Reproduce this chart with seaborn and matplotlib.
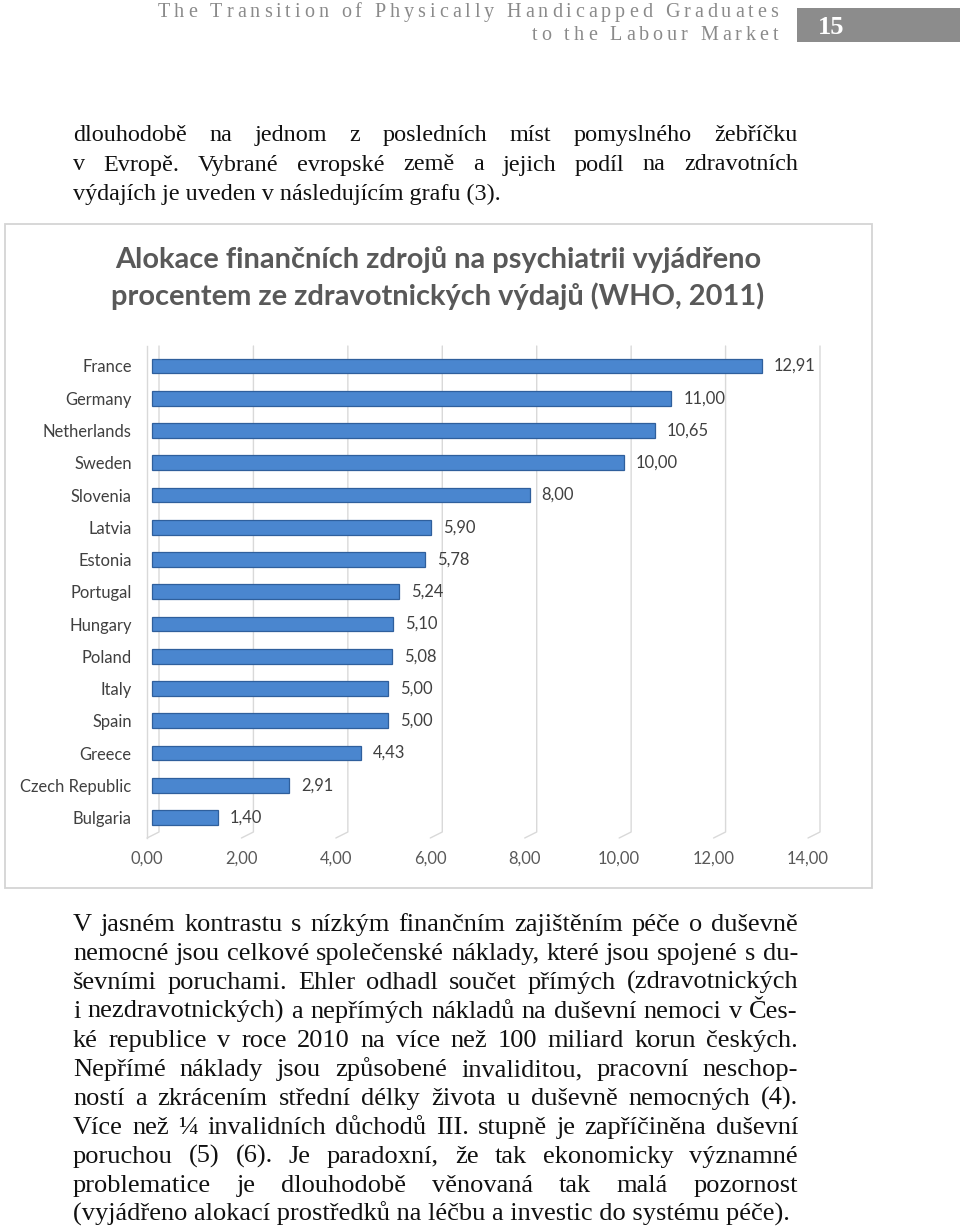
import numpy as np
import pandas as pd
import seaborn as sns
import matplotlib
matplotlib.use("Agg")
import matplotlib.pyplot as plt
from matplotlib.font_manager import FontProperties
from matplotlib.transforms import ScaledTranslation
from matplotlib.patches import Rectangle

# ---------------- data ----------------
countries = ["France", "Germany", "Netherlands", "Sweden", "Slovenia", "Latvia",
             "Estonia", "Portugal", "Hungary", "Poland", "Italy", "Spain",
             "Greece", "Czech Republic", "Bulgaria"]
values = [12.91, 11.00, 10.65, 10.00, 8.00, 5.90, 5.78, 5.24, 5.10, 5.08,
          5.00, 5.00, 4.43, 2.91, 1.40]
xticks = [0, 2, 4, 6, 8, 10, 12, 14]

title_lines = ["Alokace finančních zdrojů na psychiatrii vyjádřeno",
               "procentem ze zdravotnických výdajů (WHO, 2011)"]
header_lines = ["The Transition of Physically Handicapped Graduates",
                "to the Labour Market"]
page_number = "15"
intro_lines = ["dlouhodobě na jednom z posledních míst pomyslného žebříčku",
               "v Evropě. Vybrané evropské země a jejich podíl na zdravotních",
               "výdajích je uveden v následujícím grafu (3)."]
body_lines = [
    "V jasném kontrastu s nízkým finančním zajištěním péče o duševně",
    "nemocné jsou celkové společenské náklady, které jsou spojené s du-",
    "ševními poruchami. Ehler odhadl součet přímých (zdravotnických",
    "i nezdravotnických) a nepřímých nákladů na duševní nemoci v Čes-",
    "ké republice v roce 2010 na více než 100 miliard korun českých.",
    "Nepřímé náklady jsou způsobené invaliditou, pracovní neschop-",
    "ností a zkrácením střední délky života u duševně nemocných (4).",
    "Více než ¼ invalidních důchodů III. stupně je zapříčiněna duševní",
    "poruchou (5) (6). Je paradoxní, že tak ekonomicky významné",
    "problematice je dlouhodobě věnovaná tak malá pozornost",
    "(vyjádřeno alokací prostředků na léčbu a investic do systému péče).",
]

# ---------------- figure ----------------
W, H = 960, 1231
sns.set_theme(style="white")
plt.rcParams["font.family"] = ["DejaVu Sans"]
fig = plt.figure(figsize=(W / 100, H / 100), dpi=100)
fig.patch.set_facecolor("white")
renderer = fig.canvas.get_renderer()


def fx(x):
    return x / W


def fy(y):
    return 1 - y / H


def tw(s, fp):
    w, h, d = renderer.get_text_width_height_descent("x" + s + "x", fp, ismath=False)
    w0, _, _ = renderer.get_text_width_height_descent("xx", fp, ismath=False)
    return w - w0


def fit_size(s, family, target, weight="normal"):
    fp = FontProperties(family=family, size=10, weight=weight)
    return 10 * target / tw(s, fp)


def spaced(right, base, s, fp, spacing, color):
    widths = [tw(c, fp) for c in s]
    total = sum(widths) + spacing * (len(s) - 1)
    x = right - total
    for c, w in zip(s, widths):
        if c != " ":
            fig.text(fx(x), fy(base), c, fontproperties=fp, color=color,
                     ha="left", va="baseline")
        x += w + spacing


def justified(left, right, base, line, fp, color, justify=True):
    if not justify:
        fig.text(fx(left), fy(base), line, fontproperties=fp, color=color,
                 ha="left", va="baseline")
        return
    words = line.split(" ")
    widths = [tw(w, fp) for w in words]
    gap = (right - left - sum(widths)) / (len(words) - 1)
    x = left
    for w, wd in zip(words, widths):
        fig.text(fx(x), fy(base), w, fontproperties=fp, color=color,
                 ha="left", va="baseline")
        x += wd + gap


# ---------------- header ----------------
hfp = FontProperties(family="Liberation Serif", size=14.5)
nat = sum(tw(c, hfp) for c in header_lines[0])
hsp = (620 - nat) / (len(header_lines[0]) - 1)
spaced(778, 17, header_lines[0], hfp, hsp, "#8a8a8a")
spaced(778, 40, header_lines[1], hfp, hsp, "#8a8a8a")
fig.patches.append(Rectangle((fx(797), fy(42)), fx(960) - fx(797), (42 - 8) / H,
                             transform=fig.transFigure, facecolor="#8c8c8c",
                             edgecolor="none"))
fig.text(fx(831), fy(34), page_number, family="Liberation Serif", weight="bold",
         size=19, color="white", ha="center", va="baseline")

# ---------------- paragraphs ----------------
body_family = "Liberation Serif"
s_intro = fit_size(intro_lines[2], body_family, 427)
ifp = FontProperties(family=body_family, size=s_intro)
for i, line in enumerate(intro_lines):
    justified(73, 798, 141 + 29.5 * i, line, ifp, "#111111", justify=(i < 2))

s_body = fit_size(body_lines[-1], body_family, 717)
bfp = FontProperties(family=body_family, size=s_body)
for i, line in enumerate(body_lines):
    justified(73, 798, 931 + 29 * i, line, bfp, "#111111",
              justify=(i < len(body_lines) - 1))

# ---------------- chart frame & title ----------------
fig.patches.append(Rectangle((fx(5), fy(888)), fx(872) - fx(5), (888 - 224) / H,
                             transform=fig.transFigure, facecolor="none",
                             edgecolor="#d4d4d4", linewidth=1.3, zorder=0))
tfam = "Lato"
s_title = fit_size(title_lines[0], tfam, 647, weight="bold")
tfp = FontProperties(family=tfam, size=s_title, weight="bold")
fig.text(fx(438), fy(268), title_lines[0], fontproperties=tfp, color="#595959",
         ha="center", va="baseline")
fig.text(fx(438), fy(305), title_lines[1], fontproperties=tfp, color="#595959",
         ha="center", va="baseline")

# ---------------- bar chart ----------------
ax_l, ax_r, ax_t, ax_b = 147, 808, 346, 838
ax = fig.add_axes([fx(ax_l), fy(ax_b), (ax_r - ax_l) / W, (ax_b - ax_t) / H])
ax.set_facecolor("none")
df = pd.DataFrame({"country": countries, "value": values})
sns.barplot(data=df, x="value", y="country", order=countries, orient="h",
            color="#4a86cf", saturation=1, width=0.46, edgecolor="#2f5f9c",
            linewidth=0.9, ax=ax, zorder=3)

ax.set_xlim(0, 14)
ax.set_ylim(14 + (ax_b - 817.5) / 32.25, -(366 - ax_t) / 32.25)

shift = ScaledTranslation(5 / 100, 0, fig.dpi_scale_trans)
for p in ax.patches:
    p.set_transform(ax.transData + shift)

lab_fp = FontProperties(family="Lato", size=fit_size("Netherlands", "Lato", 89))
for i, v in enumerate(values):
    ax.annotate(f"{v:.2f}".replace(".", ","), xy=(v, i), xytext=(17, 0),
                textcoords="offset pixels", ha="left", va="center",
                fontproperties=lab_fp, color="#404040")

# 3D-like gridlines (back wall + floor)
dx = 12 / ((ax_r - ax_l) / 14)
ydiag = (ax_b - 832) / (ax_b - ax_t)
for t in xticks:
    ax.plot([t, t + dx, t + dx], [0, ydiag, 1], transform=ax.get_xaxis_transform(),
            color="#d9d9d9", lw=1.0, zorder=1, clip_on=False)

ax.set_xticks(xticks)
ax.set_xticklabels([f"{t:.2f}".replace(".", ",") for t in xticks])
ax.tick_params(axis="x", length=0, pad=9, colors="#595959")
ax.tick_params(axis="y", length=0, pad=11, colors="#404040")
for lbl in ax.get_xticklabels():
    lbl.set_fontproperties(lab_fp)
for lbl in ax.get_yticklabels():
    lbl.set_fontproperties(lab_fp)
ax.set_xlabel("")
ax.set_ylabel("")
for side in ["top", "right", "bottom"]:
    ax.spines[side].set_visible(False)
ax.spines["left"].set_color("#d9d9d9")
ax.spines["left"].set_linewidth(1.0)
ax.grid(False)

fig.savefig("out.png", dpi=100, facecolor="white")
